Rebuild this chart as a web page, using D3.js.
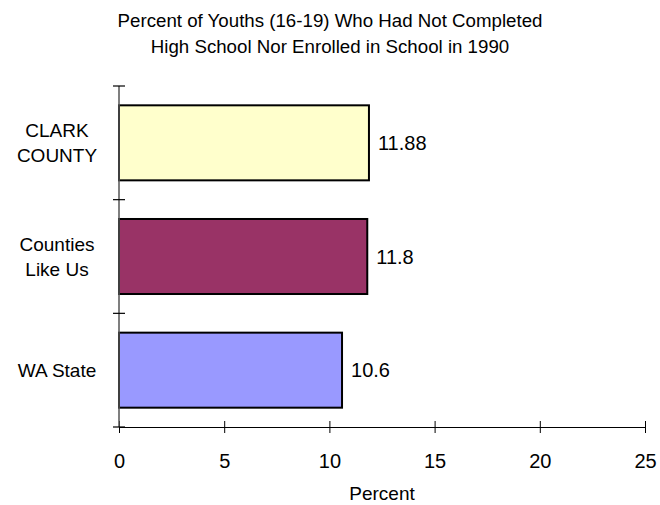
<!DOCTYPE html>
<html>
<head>
<meta charset="utf-8">
<script src="https://cdn.jsdelivr.net/npm/d3@7"></script>
<style>
  body { margin: 0; background: #fff; }
  svg { display: block; font-family: "Liberation Sans", Arial, sans-serif; }
</style>
</head>
<body>
<svg id="chart" width="660" height="505"></svg>
<script>
const categories = ["CLARK COUNTY", "Counties Like Us", "WA State"];
const categoryLines = [["CLARK", "COUNTY"], ["Counties", "Like Us"], ["WA State"]];
const values = [11.88, 11.8, 10.6];
const valueLabels = ["11.88", "11.8", "10.6"];
const colors = ["#FFFFCC", "#993366", "#9999FF"];
const xTicks = [0, 5, 10, 15, 20, 25];
const titleLines = ["Percent of Youths (16-19) Who Had Not Completed", "High School Nor Enrolled in School in 1990"];
const xTitle = "Percent";

const svg = d3.select("#chart");
const plotLeft = 119, plotRight = 645, plotTop = 86, plotBottom = 427;

const x = d3.scaleLinear().domain([0, 25]).range([plotLeft, plotRight]);
const y = d3.scaleBand().domain(categories).range([plotTop, plotBottom]).paddingInner(0.34).paddingOuter(0.17);
const yEdges = d3.scaleLinear().domain([0, categories.length]).range([plotTop, plotBottom]);

// title
svg.append("g").selectAll("text").data(titleLines).join("text")
  .attr("x", 330).attr("y", (d, i) => 27 + i * 26)
  .attr("text-anchor", "middle").attr("font-size", 18.7).attr("fill", "#000")
  .text(d => d);

// bars
svg.append("g").selectAll("rect").data(values).join("rect")
  .attr("x", x(0))
  .attr("y", (d, i) => y(categories[i]))
  .attr("width", d => x(d) - x(0))
  .attr("height", y.bandwidth())
  .attr("fill", (d, i) => colors[i])
  .attr("stroke", "#000").attr("stroke-width", 2);

// value labels
svg.append("g").selectAll("text").data(values).join("text")
  .attr("x", d => x(d) + 9)
  .attr("y", (d, i) => y(categories[i]) + y.bandwidth() / 2)
  .attr("dy", "0.35em")
  .attr("font-size", 20).attr("fill", "#000")
  .text((d, i) => valueLabels[i]);

// x axis
const xAxis = svg.append("g").attr("transform", `translate(0,${plotBottom})`)
  .call(d3.axisBottom(x).tickValues(xTicks).tickSize(6).tickPadding(21).tickSizeOuter(0));
xAxis.select(".domain").attr("stroke", "#000").attr("stroke-width", 1.2);
xAxis.selectAll(".tick line").attr("y1", -6).attr("y2", 6).attr("stroke", "#000");
xAxis.selectAll(".tick text").attr("font-size", 20).attr("font-family", "Liberation Sans, Arial, sans-serif").attr("fill", "#000");

// y axis line and separators
const yAxisG = svg.append("g");
yAxisG.append("line").attr("x1", plotLeft).attr("x2", plotLeft).attr("y1", plotTop).attr("y2", plotBottom)
  .attr("stroke", "#555").attr("stroke-width", 1.5);
yAxisG.selectAll("line.t").data(d3.range(categories.length + 1)).join("line")
  .attr("class", "t")
  .attr("x1", plotLeft - 6).attr("x2", plotLeft + 6)
  .attr("y1", d => yEdges(d)).attr("y2", d => yEdges(d))
  .attr("stroke", "#000").attr("stroke-width", 1.2);

// category labels
categories.forEach((c, i) => {
  const lines = categoryLines[i];
  const cy = y(c) + y.bandwidth() / 2;
  const lh = 25;
  const t = svg.append("text").attr("text-anchor", "middle").attr("font-size", 19).attr("fill", "#000");
  lines.forEach((ln, j) => {
    t.append("tspan").attr("x", 57)
      .attr("y", cy + (j - (lines.length - 1) / 2) * lh)
      .attr("dy", "0.35em").text(ln);
  });
});

// x title
svg.append("text").attr("x", (plotLeft + plotRight) / 2).attr("y", 500)
  .attr("text-anchor", "middle").attr("font-size", 19).attr("fill", "#000")
  .text(xTitle);
</script>
</body>
</html>
